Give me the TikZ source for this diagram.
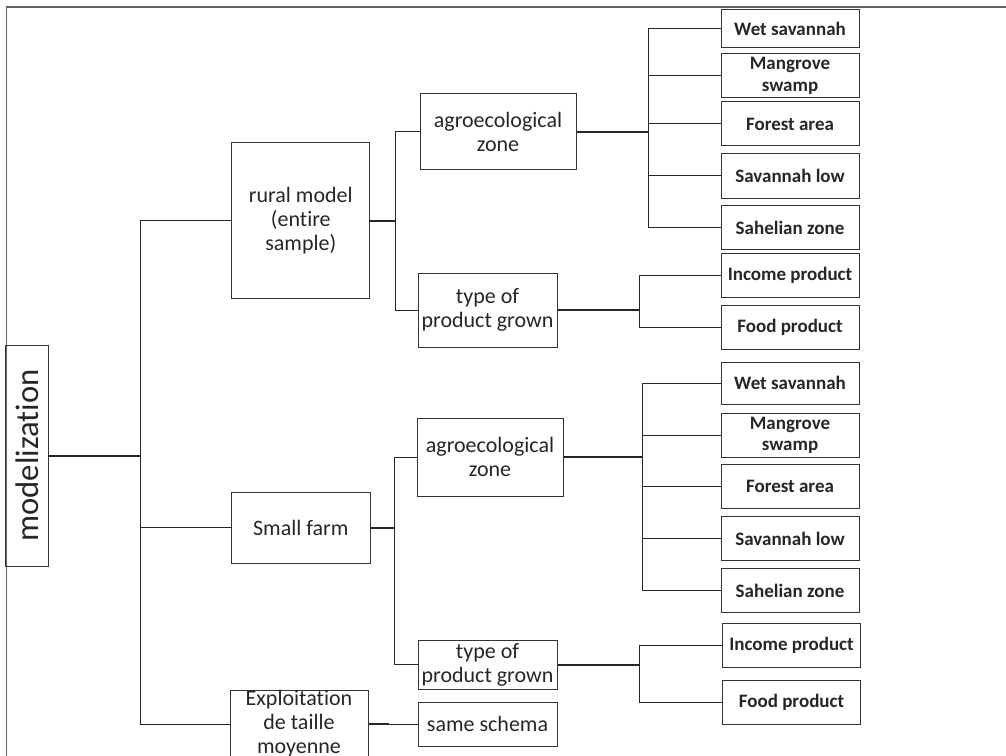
\documentclass[tikz,border=0pt]{standalone}
\usepackage{fontspec}
\setmainfont[Ligatures={NoCommon}]{Carlito}
\definecolor{framegray}{RGB}{92,100,114}
\tikzset{
  box/.style={draw=black!80, line width=0.75pt, inner sep=0pt, align=center, text=black!85,
    font=\fontsize{16.5}{18}\selectfont},
  leaf/.style={box, minimum width=103.5pt, minimum height=33pt,
    font=\bfseries\fontsize{14.25}{16}\selectfont},
  link/.style={line width=0.75pt, black!85},
  stem/.style={line width=1.5pt, black!85}
}
\begin{document}
\begin{tikzpicture}[x=0.75pt,y=-0.75pt]
\useasboundingbox (0,0) rectangle (1006,756);
\draw[framegray, line width=0.9pt] (6.5,756) -- (6.5,7) -- (1006,7);

\node[box, minimum width=32.8pt, minimum height=165.75pt, font=\fontsize{24.5}{26}\selectfont] (model) at (27,455.5) {\rotatebox{90}{modelization}};

\node[box, minimum width=103.7pt, minimum height=116.25pt] (rural) at (300.8,220.5) {rural model\\(entire\\sample)};
\node[box, minimum width=103.9pt, minimum height=53.25pt] (small) at (300.8,527.5) {Small farm};
\node[box, minimum width=103.5pt, minimum height=46.5pt] (expl) at (299,724) {Exploitation\\de taille\\moyenne};

\node[box, minimum width=117pt, minimum height=57pt] (agroA) at (498,132) {agroecological\\zone};
\node[box, minimum width=104.25pt, minimum height=55.5pt] (typeA) at (487.5,310) {type of\\product grown};
\node[box, minimum width=109.5pt, minimum height=58.5pt] (agroB) at (490,457) {agroecological\\zone};
\node[box, minimum width=104.25pt, minimum height=36.75pt] (typeB) at (487.5,664.5) {type of\\product grown};
\node[box, minimum width=104.25pt, minimum height=33pt] (same) at (487.5,724) {same schema};

\node[leaf, minimum height=28.5pt] (wetA) at (790,29) {Wet savannah};
\node[leaf] (mangA) at (790,76) {Mangrove\\swamp};
\node[leaf] (forA) at (790,124) {Forest area};
\node[leaf] (lowA) at (790,176) {Savannah low};
\node[leaf] (sahA) at (790,227.5) {Sahelian zone};
\node[leaf] (incA) at (790,275) {Income product};
\node[leaf] (foodA) at (790,327) {Food product};

\node[leaf, minimum height=31.5pt] (wetB) at (790,383) {Wet savannah};
\node[leaf] (mangB) at (790,435) {Mangrove\\swamp};
\node[leaf] (forB) at (790,486.5) {Forest area};
\node[leaf] (lowB) at (790,538.5) {Savannah low};
\node[leaf] (sahB) at (790,590.5) {Sahelian zone};
\node[leaf] (incB) at (791.5,645.5) {Income product};
\node[leaf] (foodB) at (791.5,702.5) {Food product};

\foreach \n in {rural,small,expl}
  \draw[link] (model.east) -- ++(91,0) |- (\n.west);
\draw[stem] (model.east) -- ++(91,0);

\foreach \n in {agroA,typeA}
  \draw[link] (rural.east) -- ++(25,0) |- (\n.west);
\draw[stem] (rural.east) -- ++(25,0);
\foreach \n in {agroB,typeB}
  \draw[link] (small.east) -- ++(24,0) |- (\n.west);
\draw[stem] (small.east) -- ++(24,0);
\draw[link] (expl.east) -- (same.west);
\draw[stem] (expl.east) -- ++(20,0);

\foreach \n in {wetA,mangA,forA,lowA,sahA}
  \draw[link] (agroA.east) -- ++(72,0) |- (\n.west);
\draw[stem] (agroA.east) -- ++(72,0);
\foreach \n in {incA,foodA}
  \draw[link] (typeA.east) -- ++(82,0) |- (\n.west);
\draw[stem] (typeA.east) -- ++(82,0);

\foreach \n in {wetB,mangB,forB,lowB,sahB}
  \draw[link] (agroB.east) -- ++(79,0) |- (\n.west);
\draw[stem] (agroB.east) -- ++(79,0);
\foreach \n in {incB,foodB}
  \draw[link] (typeB.east) -- ++(82,0) |- (\n.west);
\draw[stem] (typeB.east) -- ++(82,0);
\end{tikzpicture}
\end{document}
